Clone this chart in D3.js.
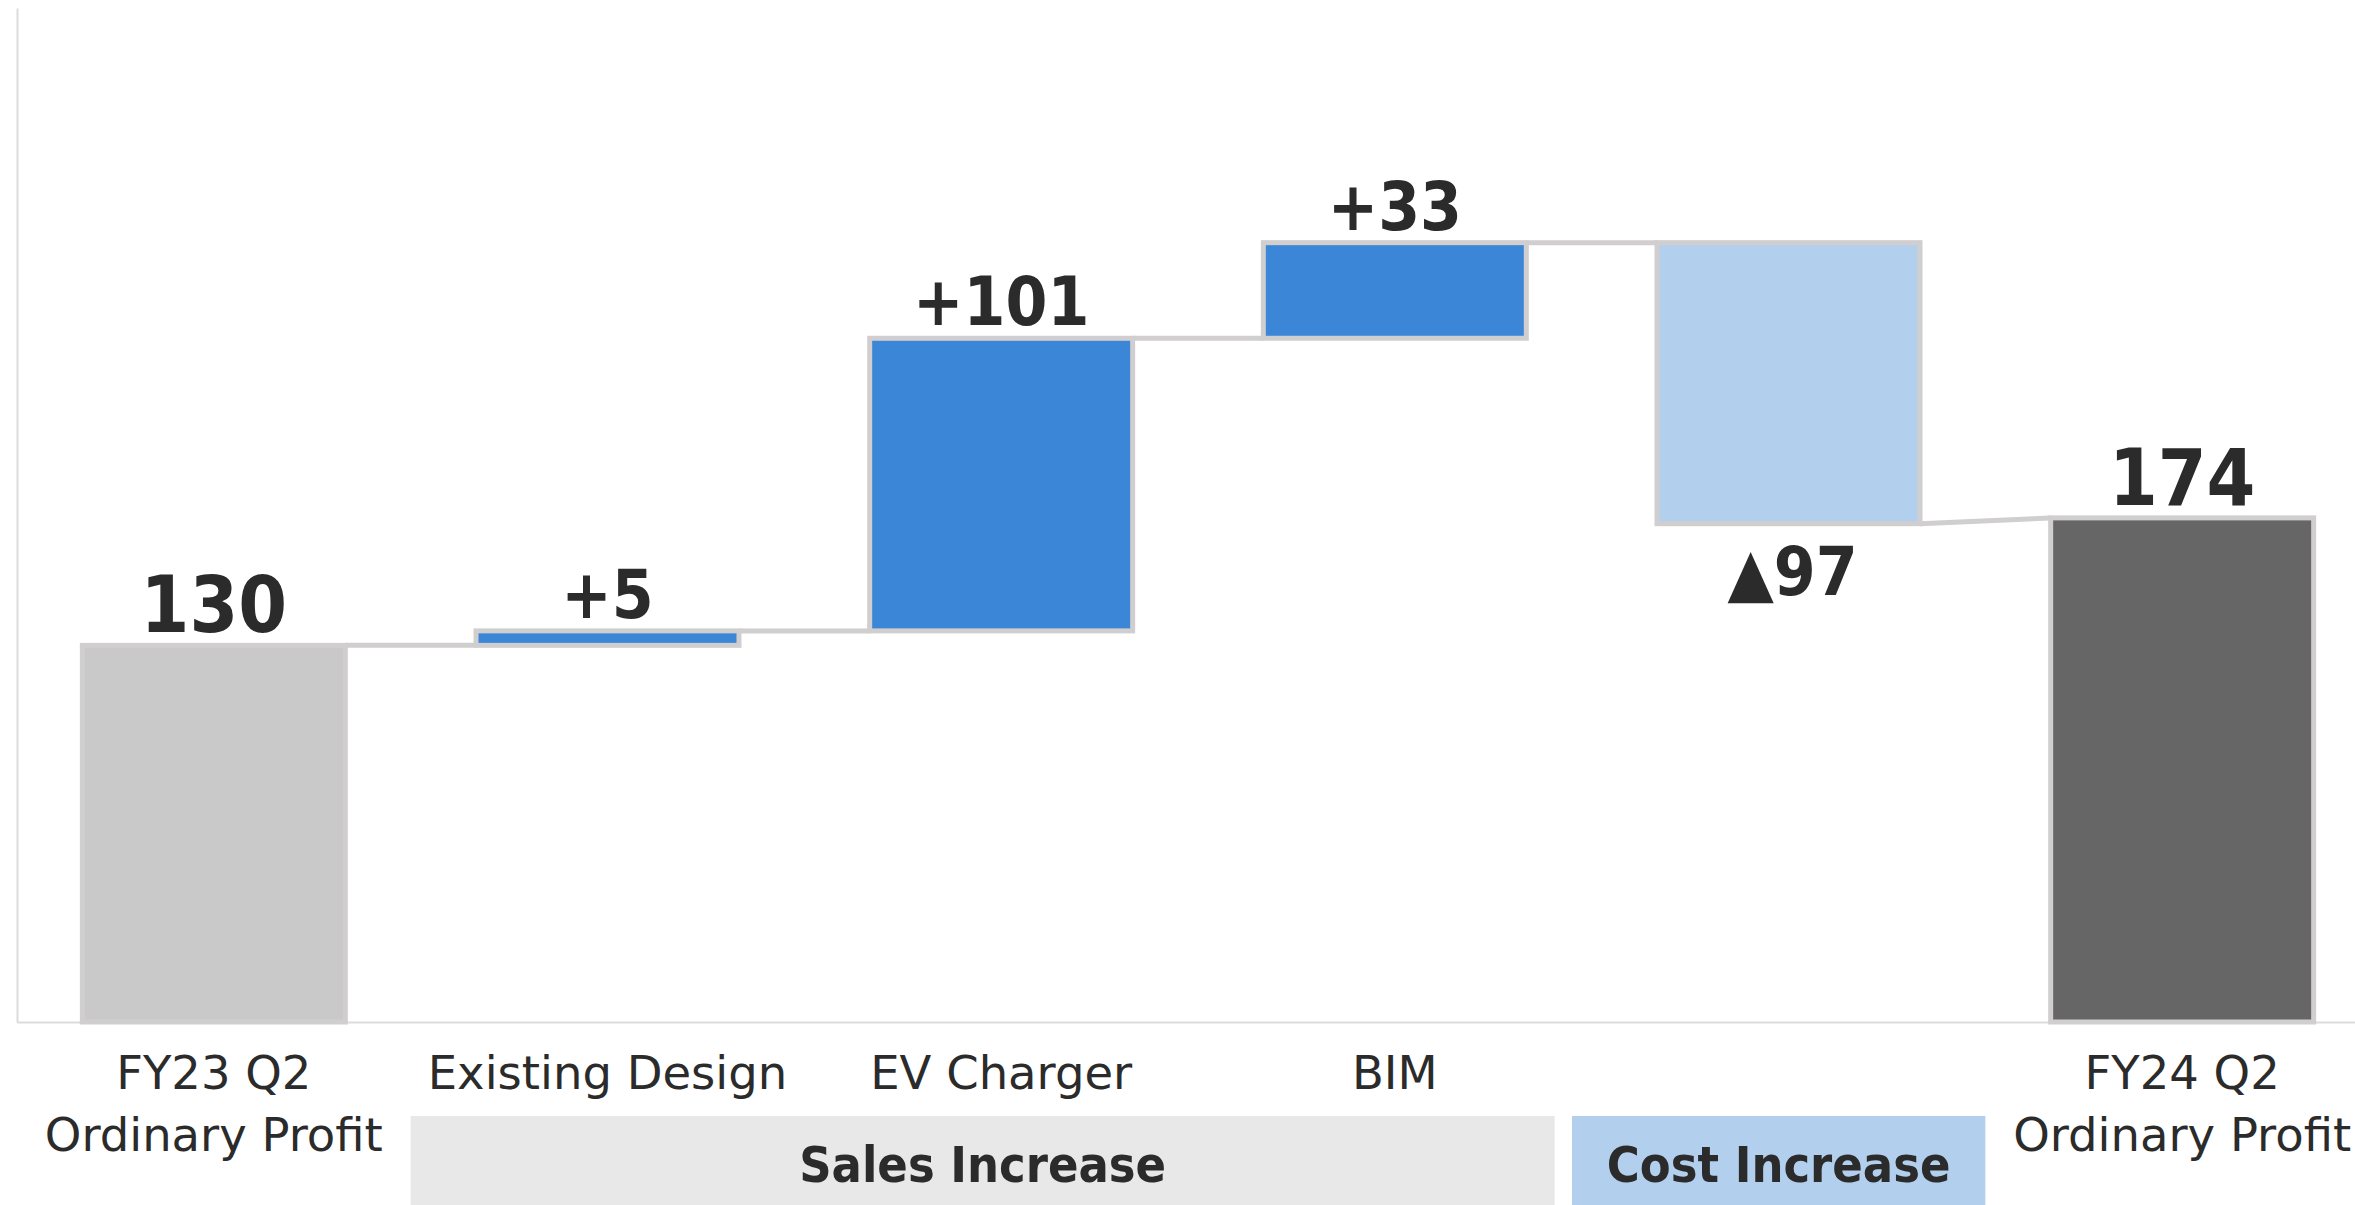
<!DOCTYPE html>
<html>
<head>
<meta charset="utf-8">
<script src="https://cdn.jsdelivr.net/npm/d3@7"></script>
<style>
  html, body { margin: 0; padding: 0; background: #ffffff; overflow: hidden; }
  svg { display: block; }
</style>
</head>
<body>
<svg id="chart" width="2355" height="1205"></svg>
<script>
// Ordinary profit bridge: FY23 Q2 -> FY24 Q2
const categories = ["FY23 Q2\nOrdinary Profit", "Existing Design", "EV Charger", "BIM", "", "FY24 Q2\nOrdinary Profit"];
const kinds = ["total", "increase", "increase", "increase", "decrease", "total"];
const values = [130, 5, 101, 33, -97, 174];
const valueLabels = ["130", "+5", "+101", "+33", "▲97", "174"];
const groupNames = ["Sales Increase", "Cost Increase"];
const groupMembers = [[1, 2, 3], [4]];

const W = 2355, H = 1205;
const svg = d3.select("#chart");

const colors = { total0: "#c9c9c9", increase: "#3b86d6", decrease: "#b2d0ee", total1: "#666666" };
const edge = "#d0cece";
const ink = "#2b2b2b";
const boldFont = "'DejaVu Sans Condensed', 'DejaVu Sans', sans-serif";
const regFont = "'DejaVu Sans', Verdana, sans-serif";

const x = d3.scaleBand().domain(d3.range(categories.length)).range([17, 2379]).paddingInner(0.332).paddingOuter(0.166);
const y = d3.scaleLinear().domain([0, 350]).range([1022, 8]);

// running totals for the floating segments
let running = 0;
const bars = values.map((v, i) => {
  let start, end;
  if (kinds[i] === "total") { start = 0; end = v; running = v; }
  else { start = running; end = running + v; running = end; }
  return { i, kind: kinds[i], v, start, end, label: valueLabels[i] };
});

// group bands under the category labels
const step = x.step();
const x0 = x.range()[0];
const groupBands = [
  { name: groupNames[0], x1: x0 + step * d3.min(groupMembers[0]), x2: x0 + step * (d3.max(groupMembers[0]) + 1) - step * 0.094, fill: "#e8e8e8" },
  { name: groupNames[1], x1: x0 + step * d3.min(groupMembers[1]) - step * 0.05, x2: x0 + step * (d3.max(groupMembers[1]) + 1), fill: "#b2d0ee" }
];
const gb = svg.append("g");
gb.selectAll("rect").data(groupBands).join("rect")
  .attr("x", d => d.x1).attr("width", d => d.x2 - d.x1)
  .attr("y", 1116).attr("height", H - 1116 + 10)
  .attr("fill", d => d.fill);
gb.selectAll("text").data(groupBands).join("text")
  .attr("x", d => (d.x1 + d.x2) / 2).attr("y", 1182)
  .attr("text-anchor", "middle")
  .style("font-family", boldFont).style("font-weight", "bold").style("font-size", "50px")
  .attr("fill", ink)
  .text(d => d.name);

// axes: plain light frame lines, no ticks
const xAxis = svg.append("g").attr("transform", `translate(0,${y(0)})`)
  .call(d3.axisBottom(x).tickSize(0).tickSizeOuter(0).tickFormat(""));
const yAxis = svg.append("g").attr("transform", `translate(${x0},0)`)
  .call(d3.axisLeft(y).ticks(0).tickSize(0).tickSizeOuter(0));
[xAxis, yAxis].forEach(a => a.select(".domain").attr("stroke", "#dcdcdc").attr("stroke-width", 2));

// category labels (multi-line)
const catG = svg.append("g");
categories.forEach((c, i) => {
  const t = catG.append("text")
    .attr("x", x(i) + x.bandwidth() / 2).attr("y", 1089)
    .attr("text-anchor", "middle")
    .style("font-family", regFont).style("font-size", "46.5px")
    .attr("fill", ink);
  c.split("\n").forEach((line, k) => {
    t.append("tspan").attr("x", x(i) + x.bandwidth() / 2).attr("dy", k === 0 ? 0 : 62).text(line);
  });
});

// connectors between consecutive bars
const levelIn = b => b.kind === "total" ? b.v : b.start;
const connectors = bars.slice(0, -1).map((b, k) => ({
  x1: x(b.i) + x.bandwidth(), y1: y(b.end),
  x2: x(bars[k + 1].i), y2: y(levelIn(bars[k + 1]))
}));
svg.append("g").selectAll("line").data(connectors).join("line")
  .attr("x1", d => d.x1).attr("y1", d => d.y1)
  .attr("x2", d => d.x2).attr("y2", d => d.y2)
  .attr("stroke", edge).attr("stroke-width", 5);

// bars
const fillOf = b => b.kind === "increase" ? colors.increase
  : b.kind === "decrease" ? colors.decrease
  : (b.i === 0 ? colors.total0 : colors.total1);
svg.append("g").selectAll("rect").data(bars).join("rect")
  .attr("x", d => x(d.i)).attr("width", x.bandwidth())
  .attr("y", d => y(Math.max(d.start, d.end)))
  .attr("height", d => Math.abs(y(d.start) - y(d.end)))
  .attr("fill", fillOf)
  .attr("stroke", edge).attr("stroke-width", 5);

// value labels
svg.append("g").selectAll("text").data(bars).join("text")
  .attr("x", d => x(d.i) + x.bandwidth() / 2 + (d.kind === "decrease" ? 4 : 0))
  .attr("y", d => d.kind === "decrease" ? y(Math.min(d.start, d.end)) + 71 : y(Math.max(d.start, d.end)) - 13)
  .attr("text-anchor", "middle")
  .style("font-family", boldFont).style("font-weight", "bold")
  .style("font-size", d => d.kind === "total" ? "78px" : "67px")
  .attr("fill", ink)
  .text(d => d.label);
</script>
</body>
</html>
